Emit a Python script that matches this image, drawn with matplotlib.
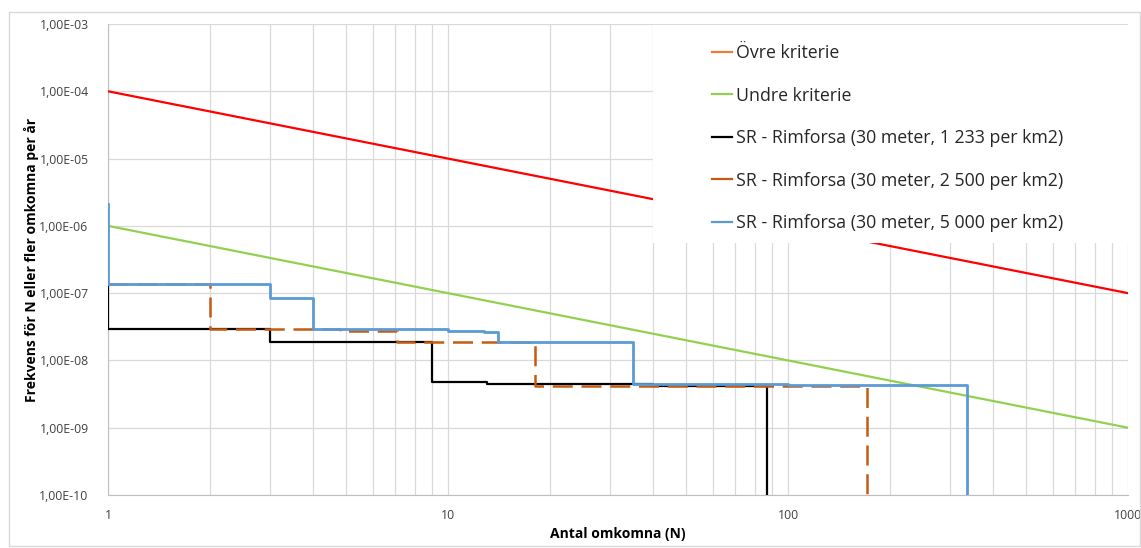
import matplotlib
matplotlib.use("Agg")
import matplotlib.pyplot as plt
from matplotlib.ticker import FuncFormatter, LogLocator, FixedLocator
from matplotlib.patches import Rectangle
from matplotlib.lines import Line2D

# kriterier (N, frekvens)
krit_n = [1, 1000]
ovre_f = [1e-4, 1e-7]
undre_f = [1e-6, 1e-9]

# SR - Rimforsa, trappstegskurvor (steps-post)
black_n = [1, 1, 3, 9, 13, 40, 87]
black_f = [1.37e-7, 2.94e-8, 1.9e-8, 4.74e-9, 4.4e-9, 4.2e-9, 1e-10]

orange_n = [1, 2, 4.8, 7.1, 18, 170.7]
orange_f = [1.37e-7, 2.94e-8, 2.77e-8, 1.88e-8, 4.2e-9, 1e-10]

blue_n = [1, 1, 3, 4, 10, 12.8, 14, 35, 100, 336]
blue_f = [2.1e-6, 1.37e-7, 8.5e-8, 2.94e-8, 2.77e-8, 2.62e-8, 1.86e-8, 4.45e-9, 4.25e-9, 1e-10]

labels = ["Övre kriterie", "Undre kriterie",
          "SR - Rimforsa (30 meter, 1 233 per km2)",
          "SR - Rimforsa (30 meter, 2 500 per km2)",
          "SR - Rimforsa (30 meter, 5 000 per km2)"]

plt.rcParams['font.family'] = ['Open Sans', 'DejaVu Sans']

fig = plt.figure(figsize=(11.41, 5.48), dpi=100)
ax = fig.add_axes([108/1141, 1 - 495/548, 1020/1141, 471/548])

# ram runt hela diagrammet
fig.patches.append(Rectangle((9/1141, 0.004), 1 - 9/1141 - 0.001, 1 - 12/548 - 0.004,
                             transform=fig.transFigure, fill=False,
                             edgecolor="#D9D9D9", lw=1))

ax.plot(krit_n, ovre_f, color="#FF0000", lw=1.6, zorder=3)
ax.plot(krit_n, undre_f, color="#92D050", lw=1.6, zorder=3)
ax.plot(black_n, black_f, color="black", lw=1.6, drawstyle="steps-post", zorder=3)
ax.plot(orange_n, orange_f, color="#C55A11", lw=1.8, ls=(0, (8, 3.5)),
        drawstyle="steps-post", zorder=3)
ax.plot(blue_n, blue_f, color="#5B9BD5", lw=2.0, drawstyle="steps-post", zorder=3)

ax.set_xscale("log")
ax.set_yscale("log")
ax.set_xlim(1, 1000)
ax.set_ylim(1e-10, 1e-3)

ax.xaxis.set_major_locator(FixedLocator([1, 10, 100, 1000]))
ax.xaxis.set_minor_locator(LogLocator(base=10, subs=range(2, 10)))
ax.xaxis.set_major_formatter(FuncFormatter(lambda v, p: "%d" % round(v)))
ax.xaxis.set_minor_formatter(FuncFormatter(lambda v, p: ""))
ax.yaxis.set_major_locator(FixedLocator([10.0**e for e in range(-10, -2)]))
ax.yaxis.set_minor_locator(FixedLocator([]))
ax.yaxis.set_major_formatter(FuncFormatter(lambda v, p: ("%.2E" % v).replace(".", ",")))

ax.grid(True, which="both", axis="x", color="#D9D9D9", lw=0.9)
ax.grid(True, which="major", axis="y", color="#D9D9D9", lw=0.9)
ax.set_axisbelow(True)

for s in ["top", "right"]:
    ax.spines[s].set_visible(False)
for s in ["left", "bottom"]:
    ax.spines[s].set_color("#BFBFBF")
ax.tick_params(which="both", length=0, labelsize=8.8, colors="#404040")
ax.tick_params(axis="y", pad=14)
ax.tick_params(axis="x", pad=10)

ax.set_xlabel("Antal omkomna (N)", fontsize=10, fontweight="bold", labelpad=4)
ax.set_ylabel("Frekvens för N eller fler omkomna per år", fontsize=10,
              fontweight="bold", labelpad=0)

# vit legendruta
ax.add_patch(Rectangle((545/1020, 1 - 219/471), 1 - 545/1020, 218/471,
                       transform=ax.transAxes, facecolor="white",
                       edgecolor="none", zorder=4))
handles = [Line2D([], [], color="#ED7D31", lw=1.6),
           Line2D([], [], color="#92D050", lw=1.6),
           Line2D([], [], color="black", lw=1.6),
           Line2D([], [], color="#C55A11", lw=1.6),
           Line2D([], [], color="#5B9BD5", lw=1.6)]
leg = ax.legend(handles, labels, loc="upper left",
                bbox_to_anchor=((712 - 108) / 1020, 1 - 20/471),
                frameon=False, fontsize=12.8, handlelength=1.1,
                handletextpad=0.25, labelspacing=1.38, borderpad=0,
                borderaxespad=0)
leg.set_zorder(5)
for t in leg.get_texts():
    t.set_color("#262626")

fig.savefig("out.png", dpi=100)
